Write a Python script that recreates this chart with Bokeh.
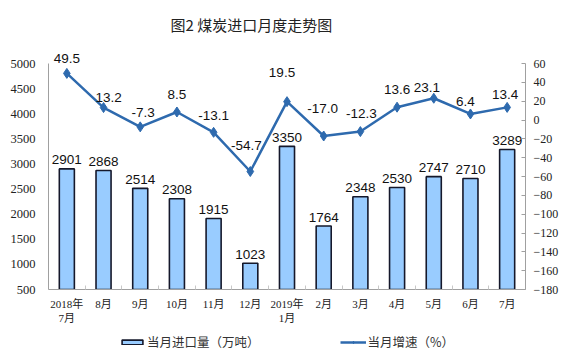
from bokeh.plotting import figure
from bokeh.layouts import column
from bokeh.models import (Range1d, LinearAxis, FixedTicker, ColumnDataSource,
                          Legend, LegendItem)
from bokeh.core.properties import value
from bokeh.embed import file_html
from bokeh.resources import INLINE

# ---- data ----
months = ["2018年\n7月", "8月", "9月", "10月", "11月", "12月", "2019年\n1月",
          "2月", "3月", "4月", "5月", "6月", "7月"]
imports = [2901, 2868, 2514, 2308, 1915, 1023, 3350, 1764, 2348, 2530, 2747, 2710, 3289]
growth = [49.5, 13.2, -7.3, 8.5, -13.1, -54.7, 19.5, -17.0, -12.3, 13.6, 23.1, 6.4, 13.4]
series_names = ["当月进口量（万吨）", "当月增速（%）"]

# label nudges (screen px)
growth_dx = [0, 5, 3, 0, 0, -4, -5, -1, 1, 0, -7, -5, -2]
growth_dy = [-15, -10, -14, -17, -17, -26, -29, -28, -18, -18, -11, -12, -13]

xs = list(range(len(months)))
src = ColumnDataSource(dict(
    x=xs, imports=imports, growth=growth,
    imp_txt=[str(v) for v in imports],
    gr_txt=["%.1f" % v for v in growth],
    gdx=growth_dx, gdy=growth_dy,
))

SERIF = "Liberation Serif, Noto Sans CJK SC"
SANS = "Liberation Sans"
CJK = "Noto Sans CJK SC"
BAR_FILL = "#99CCFF"
BAR_LINE = "#15182B"
LINE_C = "#2E6AAE"

# frame: top 40px, axis span 63..289 px (226 px)
L_MIN, L_MAX = 500, 5000
R_MIN, R_MAX = -180, 60
extra_px = 23
l_top = L_MAX + extra_px * (L_MAX - L_MIN) / 226
r_top = R_MAX + extra_px * (R_MAX - R_MIN) / 226

p = figure(width=564, height=327, output_backend="svg", toolbar_location=None,
           x_range=Range1d(-0.5, 12.5), y_range=Range1d(L_MIN, l_top),
           min_border_left=48, min_border_right=39, min_border_top=40,
           min_border_bottom=38, outline_line_color=None)
p.extra_y_ranges = {"rate": Range1d(R_MIN, r_top)}
p.grid.visible = False
p.background_fill_color = "white"
p.border_fill_color = "white"

# title
p.title.text = "图2 煤炭进口月度走势图"
p.title.text_font = CJK
p.title.text_font_size = "15px"
p.title.text_font_style = "normal"
p.title.text_color = "#222222"
p.title.align = "left"
p.title.offset = 122
p.title.standoff = 12

# left axis
la = p.yaxis[0]
la.ticker = FixedTicker(ticks=list(range(L_MIN, L_MAX + 1, 500)))
la.bounds = (L_MIN, L_MAX)
la.axis_line_color = "#A0A0A0"
la.major_tick_line_color = None
la.minor_tick_line_color = None
la.major_label_text_font = SERIF
la.major_label_text_font_size = "12.5px"
la.major_label_text_color = "#222222"
la.major_label_standoff = 7

# right axis
ra = LinearAxis(y_range_name="rate",
                ticker=FixedTicker(ticks=list(range(R_MIN, R_MAX + 1, 20))))
ra.bounds = (R_MIN, R_MAX)
ra.axis_line_color = "#A0A0A0"
ra.major_tick_line_color = "#A0A0A0"
ra.major_tick_in = 4
ra.major_tick_out = 0
ra.minor_tick_line_color = None
ra.major_label_text_font = SERIF
ra.major_label_text_font_size = "12px"
ra.major_label_text_color = "#222222"
ra.major_label_standoff = 8
p.add_layout(ra, "right")

# bottom axis
xa = p.xaxis[0]
xa.ticker = FixedTicker(ticks=xs, minor_ticks=[i + 0.5 for i in range(-1, 13)])
xa.major_label_overrides = {i: m for i, m in enumerate(months)}
xa.axis_line_color = "#A0A0A0"
xa.major_tick_line_color = None
xa.minor_tick_line_color = "#C8C8C8"
xa.minor_tick_in = 4
xa.minor_tick_out = 0
xa.major_label_text_font = SERIF
xa.major_label_text_font_size = "11px"
xa.major_label_text_color = "#222222"
xa.major_label_standoff = 2

# bars
p.vbar(x="x", top="imports", bottom=L_MIN, width=0.41, source=src,
       fill_color=BAR_FILL, line_color=BAR_LINE, line_width=1.6)
p.text(x="x", y="imports", text="imp_txt", source=src,
       text_font=value(SANS), text_font_size="13.5px", text_color="#111111",
       text_align="center", text_baseline="middle", y_offset=-9)

# line
p.line(x="x", y="growth", source=src, y_range_name="rate",
       line_color=LINE_C, line_width=2.5)
p.scatter(x="x", y="growth", source=src, y_range_name="rate",
          marker="diamond", size=10, fill_color=LINE_C, line_color=LINE_C)
p.text(x="x", y="growth", text="gr_txt", source=src, y_range_name="rate",
       x_offset="gdx", y_offset="gdy",
       text_font=value(SANS), text_font_size="13.5px", text_color="#111111",
       text_align="center", text_baseline="middle")

# ---- legend strip (hidden series renderers; only their legend swatches show) ----
lg = figure(width=564, height=30, output_backend="svg", toolbar_location=None,
            x_range=Range1d(-0.5, 12.5), y_range=Range1d(0, 1),
            x_axis_location=None, y_axis_location=None,
            min_border=0, outline_line_color=None)
lg.grid.visible = False
lg.background_fill_color = "white"
lg.border_fill_color = "white"
r_bar = lg.vbar(x="x", top="imports", width=0.41, source=src,
                fill_color=BAR_FILL, line_color=BAR_LINE, line_width=1.6,
                visible=False)
r_ln = lg.line(x="x", y="growth", source=src, line_color=LINE_C,
               line_width=2.5, visible=False)
r_mk = lg.scatter(x="x", y="growth", source=src, marker="diamond", size=8,
                  fill_color=LINE_C, line_color=LINE_C, visible=False)
legend = Legend(items=[LegendItem(label=series_names[0], renderers=[r_bar]),
                       LegendItem(label=series_names[1], renderers=[r_ln, r_mk])],
                orientation="horizontal", location=(71, 6),
                spacing=80, glyph_width=26, glyph_height=6,
                label_standoff=2, label_text_font=CJK,
                label_text_font_size="12.5px", label_text_color="#333333",
                border_line_color=None, background_fill_alpha=0,
                padding=2, margin=0)
lg.add_layout(legend, "center")

layout = column(p, lg, spacing=0)
open("out.html", "w").write(file_html(layout, INLINE))
